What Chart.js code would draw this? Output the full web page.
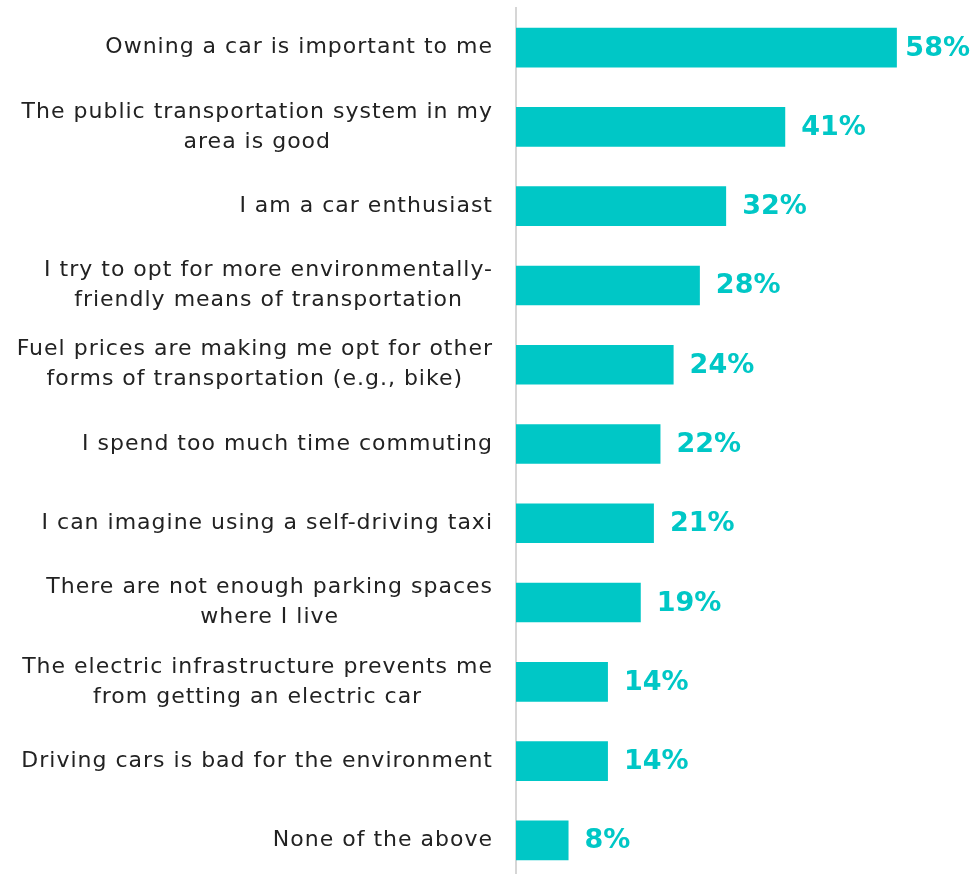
<!DOCTYPE html>
<html>
<head>
<meta charset="utf-8">
<script src="https://cdn.jsdelivr.net/npm/chart.js@4"></script>
<style>
  html, body { margin: 0; padding: 0; background: #fff; overflow: hidden; }
  #wrap { width: 973px; height: 880px; position: relative; }
</style>
</head>
<body>
<div id="wrap"><canvas id="barCanvas"></canvas></div>
<script>
const categories = [
    ['Owning a car is important to me'],
    ['The public transportation system in my', 'area is good'],
    ['I am a car enthusiast'],
    ['I try to opt for more environmentally-', 'friendly means of transportation'],
    ['Fuel prices are making me opt for other', 'forms of transportation (e.g., bike)'],
    ['I spend too much time commuting'],
    ['I can imagine using a self-driving taxi'],
    ['There are not enough parking spaces', 'where I live'],
    ['The electric infrastructure prevents me', 'from getting an electric car'],
    ['Driving cars is bad for the environment'],
    ['None of the above']
];
const shares = [58, 41, 32, 28, 24, 22, 21, 19, 14, 14, 8];

const teal = '#00C7C6';
const labelFont = '22px "DejaVu Sans"';
const valueFont = 'bold 27px "DejaVu Sans"';

// category labels: block right-aligned to the axis, lines centered inside the block
const categoryLabels = {
    id: 'categoryLabels',
    afterDraw(chart) {
        const ctx = chart.ctx;
        const yScale = chart.scales.y;
        const right = 493;
        ctx.save();
        ctx.font = labelFont;
        ctx.letterSpacing = '1px';
        ctx.fillStyle = '#222';
        ctx.textAlign = 'center';
        ctx.textBaseline = 'middle';
        categories.forEach((lines, i) => {
            const cy = yScale.getPixelForValue(i);
            const widest = Math.max(...lines.map(l => ctx.measureText(l).width));
            const cx = right - widest / 2;
            lines.forEach((line, j) => {
                ctx.fillText(line, cx, cy + (j - (lines.length - 1) / 2) * 30);
            });
        });
        ctx.restore();
    }
};

// percentage labels after each bar
const valueLabels = {
    id: 'valueLabels',
    afterDatasetsDraw(chart) {
        const ctx = chart.ctx;
        const meta = chart.getDatasetMeta(0);
        ctx.save();
        ctx.font = valueFont;
        ctx.fillStyle = teal;
        ctx.textAlign = 'left';
        ctx.textBaseline = 'middle';
        meta.data.forEach((bar, i) => {
            const text = shares[i] + '%';
            const w = ctx.measureText(text).width;
            const x = Math.min(bar.x + 16, chart.width - w - 3);
            ctx.fillText(text, x, bar.y + 1);
        });
        ctx.restore();
    }
};

const ctx = document.getElementById('barCanvas').getContext('2d');
new Chart(ctx, {
    type: 'bar',
    data: {
        labels: categories,
        datasets: [{
            data: shares,
            backgroundColor: teal,
            barPercentage: 0.5,
            categoryPercentage: 1
        }]
    },
    options: {
        indexAxis: 'y',
        responsive: true,
        maintainAspectRatio: false,
        animation: false,
        layout: { padding: { left: 508, top: 8, right: 63, bottom: 0 } },
        plugins: {
            legend: { display: false },
            tooltip: { enabled: false }
        },
        scales: {
            x: { display: false, min: 0, max: 60 },
            y: {
                ticks: { display: false },
                grid: { display: false },
                border: { display: true, color: '#d6d6d6', width: 2 }
            }
        }
    },
    plugins: [categoryLabels, valueLabels]
});
</script>
</body>
</html>
